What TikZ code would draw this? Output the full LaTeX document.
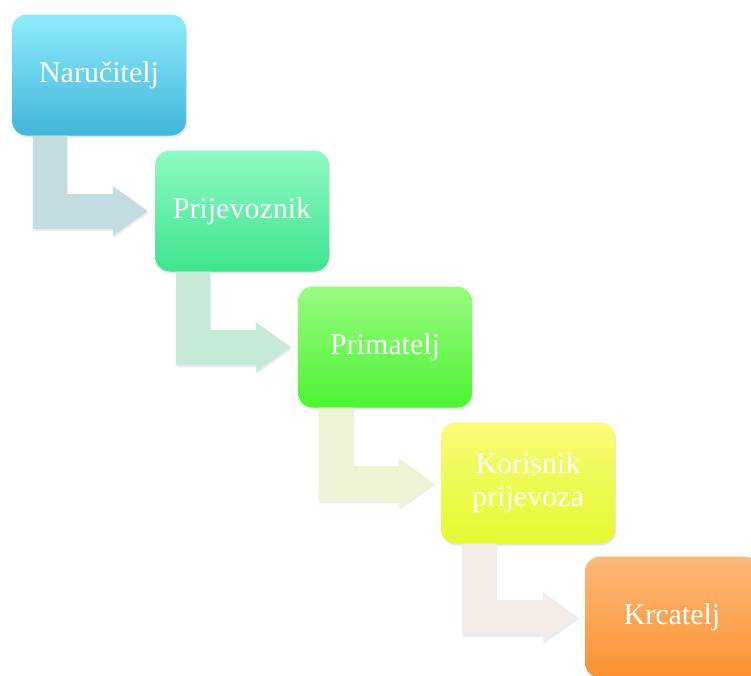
\documentclass[tikz,border=0pt]{standalone}
\usepackage{fontspec}
\setmainfont{Liberation Serif}
\usetikzlibrary{calc,shadows}

\definecolor{narTop}{HTML}{8EEBFB}\definecolor{narBot}{HTML}{41B6DA}
\definecolor{prijTop}{HTML}{90FAC4}\definecolor{prijBot}{HTML}{3DE38F}
\definecolor{primTop}{HTML}{99FC80}\definecolor{primBot}{HTML}{4CF332}
\definecolor{korTop}{HTML}{F8FC76}\definecolor{korBot}{HTML}{E3FA30}
\definecolor{krcTop}{HTML}{FDB87A}\definecolor{krcBot}{HTML}{FB9230}
\definecolor{arrA}{HTML}{C3DCE0}\definecolor{arrB}{HTML}{C5EBD8}
\definecolor{arrC}{HTML}{EBF5D6}\definecolor{arrD}{HTML}{F3EBE6}

\tikzset{
  stage/.style={rounded corners=15pt, minimum width=174pt, minimum height=121pt,
    text=white, align=center, font=\fontsize{30}{33}\selectfont,
    drop shadow={opacity=0.2, shadow xshift=1pt, shadow yshift=-2pt}},
  bent/.style={drop shadow={opacity=0.15, shadow xshift=1pt, shadow yshift=-2pt}}
}

% bent arrow from the foot of #1 to the left side of #2
\newcommand{\bentarrow}[3]{%
  \fill[#3, bent] ($(#1.south west)+(21,0)$) -- ++(34,0)
    |- ($(#2.west)+(-42,-17)$) -- ++(0,-8) -- ($(#2.west)+(-7,0)$)
    -- ($(#2.west)+(-42,25)$) -- ++(0,-7)
    -| ($(#1.south west)+(21,0)$) -- cycle;}

\begin{document}
\begin{tikzpicture}[x=1pt,y=-1pt]
\useasboundingbox (0,0) rectangle (751,675);

% Boxes
\node[stage, top color=narTop, bottom color=narBot] (nar) at (99,75) {Naručitelj};
\node[stage, top color=prijTop, bottom color=prijBot] (prij) at (242,211) {Prijevoznik};
\node[stage, top color=primTop, bottom color=primBot] (prim) at (385,347) {Primatelj};
\node[stage, top color=korTop, bottom color=korBot] (kor) at (528,483) {Korisnik\\prijevoza};
\node[stage, top color=krcTop, bottom color=krcBot] (krc) at (672,617) {Krcatelj};

% Arrows
\bentarrow{nar}{prij}{arrA}
\bentarrow{prij}{prim}{arrB}
\bentarrow{prim}{kor}{arrC}
\bentarrow{kor}{krc}{arrD}
\end{tikzpicture}
\end{document}
